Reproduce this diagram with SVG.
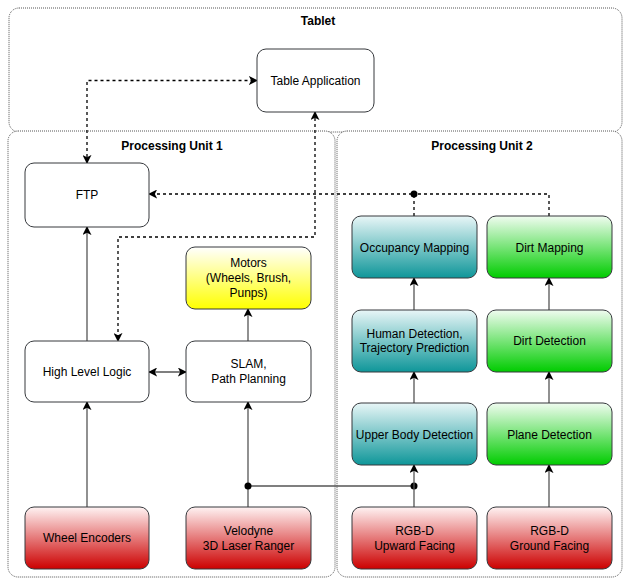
<svg xmlns="http://www.w3.org/2000/svg" width="624" height="578" viewBox="0 0 624 578">
<style>
text{font-family:"Liberation Sans",Arial,sans-serif;font-size:12px;fill:#000;text-anchor:middle;dominant-baseline:central}
.title{font-weight:bold}
.cont{fill:#fff;stroke:#555;stroke-width:1;stroke-dasharray:1 1}
.box{stroke:#36393d;stroke-width:1}
.solid{fill:none;stroke:#555;stroke-width:1.3}
.dash{fill:none;stroke:#000;stroke-width:1.3;stroke-dasharray:3 3}
</style>
<defs>
<linearGradient id="gY" x1="0" y1="0" x2="0" y2="1"><stop offset="0" stop-color="#ffffff"/><stop offset="1" stop-color="#ffff00"/></linearGradient>
<linearGradient id="gT" x1="0" y1="0" x2="0" y2="1"><stop offset="0" stop-color="#e8f6f7"/><stop offset="1" stop-color="#0e9699"/></linearGradient>
<linearGradient id="gG" x1="0" y1="0" x2="0" y2="1"><stop offset="0" stop-color="#f0fcf0"/><stop offset="1" stop-color="#00cc00"/></linearGradient>
<linearGradient id="gR" x1="0" y1="0" x2="0" y2="1"><stop offset="0" stop-color="#fff3f3"/><stop offset="1" stop-color="#cc0000"/></linearGradient>
<marker id="arr" viewBox="0 0 10 10" refX="9" refY="5" markerWidth="9" markerHeight="9" markerUnits="userSpaceOnUse" orient="auto-start-reverse">
<path d="M0,0 L10,5 L0,10 L2.5,5 z" fill="#000"/>
</marker>
</defs>

<g id="tablet">
<rect class="cont" x="9" y="8" width="613" height="124" rx="10"/>
<text class="title" x="318" y="21">Tablet</text>
</g>
<g id="pu1">
<rect class="cont" x="8" y="131" width="327" height="446" rx="10"/>
<text class="title" x="172" y="146">Processing Unit 1</text>
</g>
<g id="pu2">
<rect class="cont" x="337" y="131" width="285" height="446" rx="10"/>
<text class="title" x="482" y="146">Processing Unit 2</text>
</g>

<g id="connectors">
<path class="dash" d="M87,163 V80.5 H257" marker-start="url(#arr)" marker-end="url(#arr)"/>
<path class="dash" d="M315,112 V237 H118 V341" marker-start="url(#arr)" marker-end="url(#arr)"/>
<path class="dash" d="M414,216 V194 H149" marker-end="url(#arr)"/>
<path class="dash" d="M549,216 V194 H414"/>
<circle cx="414" cy="194" r="3.5" fill="#000"/>
<path class="solid" d="M87,507 V402" marker-end="url(#arr)"/>
<path class="solid" d="M87,341 V227" marker-end="url(#arr)"/>
<path class="solid" d="M149,372 H186" marker-start="url(#arr)" marker-end="url(#arr)"/>
<path class="solid" d="M248,341 V309" marker-end="url(#arr)"/>
<path class="solid" d="M248,507 V402" marker-end="url(#arr)"/>
<path class="solid" d="M248,486 H414"/>
<circle cx="248" cy="486" r="3.5" fill="#000"/>
<circle cx="414" cy="486" r="3.5" fill="#000"/>
<path class="solid" d="M414,507 V465" marker-end="url(#arr)"/>
<path class="solid" d="M414,403 V372" marker-end="url(#arr)"/>
<path class="solid" d="M414,310 V278" marker-end="url(#arr)"/>
<path class="solid" d="M549,507 V465" marker-end="url(#arr)"/>
<path class="solid" d="M549,403 V372" marker-end="url(#arr)"/>
<path class="solid" d="M549,310 V278" marker-end="url(#arr)"/>
</g>

<g id="table-app"><rect class="box" x="257" y="49" width="117" height="63" rx="9" fill="#fff"/><text x="315.5" y="80.5">Table Application</text></g>
<g id="ftp"><rect class="box" x="25" y="163" width="124" height="64" rx="9" fill="#fff"/><text x="87" y="195">FTP</text></g>
<g id="motors"><rect class="box" x="186" y="247" width="125" height="62" rx="9" fill="url(#gY)"/><text x="248.5" y="263">Motors</text><text x="248.5" y="278">(Wheels, Brush,</text><text x="248.5" y="293">Punps)</text></g>
<g id="hll"><rect class="box" x="25" y="341" width="124" height="61" rx="9" fill="#fff"/><text x="87" y="372">High Level Logic</text></g>
<g id="slam"><rect class="box" x="186" y="341" width="125" height="61" rx="9" fill="#fff"/><text x="248.5" y="364">SLAM,</text><text x="248.5" y="379">Path Planning</text></g>
<g id="wheel-enc"><rect class="box" x="25" y="507" width="124" height="62" rx="9" fill="url(#gR)"/><text x="87" y="538">Wheel Encoders</text></g>
<g id="velodyne"><rect class="box" x="186" y="507" width="125" height="62" rx="9" fill="url(#gR)"/><text x="248.5" y="531">Velodyne</text><text x="248.5" y="546">3D Laser Ranger</text></g>

<g id="occupancy"><rect class="box" x="352" y="216" width="125" height="62" rx="9" fill="url(#gT)"/><text x="414.5" y="247.5">Occupancy Mapping</text></g>
<g id="dirt-mapping"><rect class="box" x="487" y="216" width="125" height="62" rx="9" fill="url(#gG)"/><text x="549.5" y="247.5">Dirt Mapping</text></g>
<g id="human"><rect class="box" x="352" y="310" width="125" height="62" rx="9" fill="url(#gT)"/><text x="414.5" y="334">Human Detection,</text><text x="414.5" y="348">Trajectory Prediction</text></g>
<g id="dirt-detection"><rect class="box" x="487" y="310" width="125" height="62" rx="9" fill="url(#gG)"/><text x="549.5" y="341">Dirt Detection</text></g>
<g id="upper-body"><rect class="box" x="352" y="403" width="125" height="62" rx="9" fill="url(#gT)"/><text x="414.5" y="434.5">Upper Body Detection</text></g>
<g id="plane"><rect class="box" x="487" y="403" width="125" height="62" rx="9" fill="url(#gG)"/><text x="549.5" y="434.5">Plane Detection</text></g>
<g id="rgbd-up"><rect class="box" x="352" y="507" width="125" height="62" rx="9" fill="url(#gR)"/><text x="414.5" y="531">RGB-D</text><text x="414.5" y="546">Upward Facing</text></g>
<g id="rgbd-ground"><rect class="box" x="487" y="507" width="125" height="62" rx="9" fill="url(#gR)"/><text x="549.5" y="531">RGB-D</text><text x="549.5" y="546">Ground Facing</text></g>
</svg>
